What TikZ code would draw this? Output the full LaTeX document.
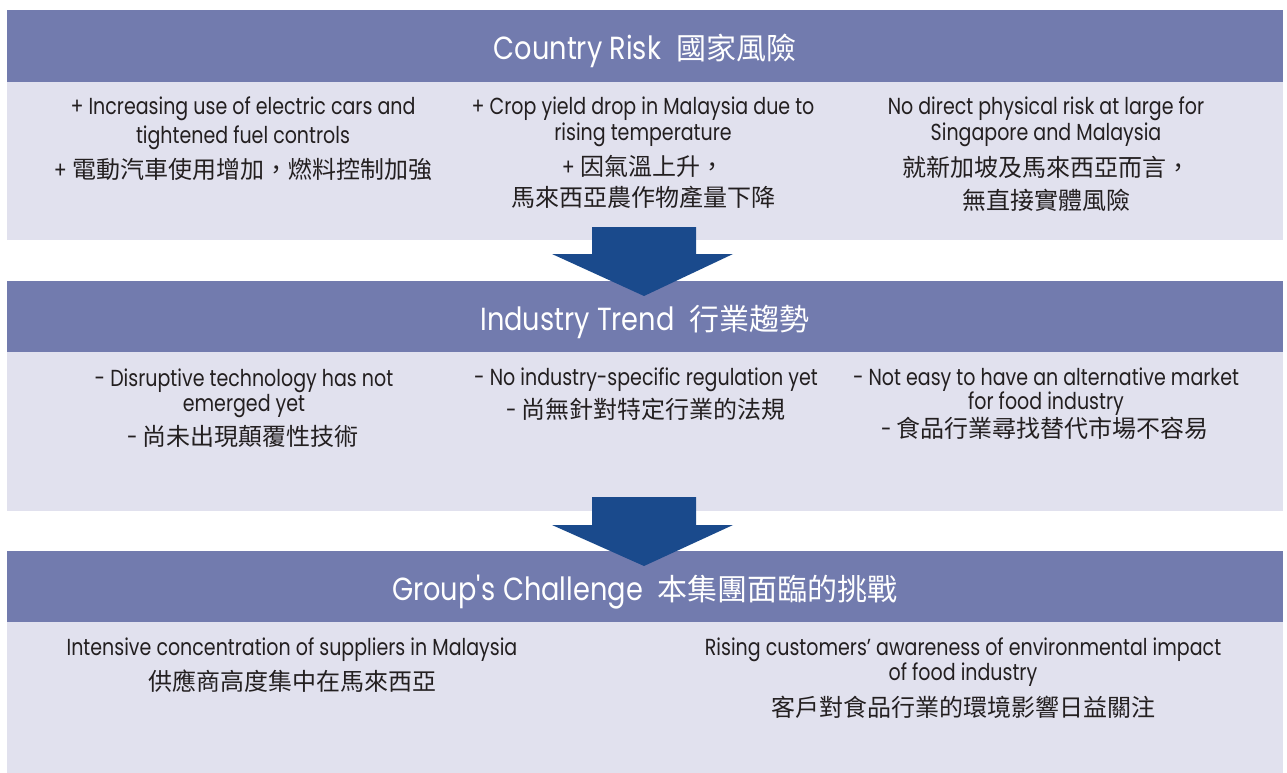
\documentclass[tikz,border=0pt]{standalone}
\usepackage{fontspec}
\setmainfont{Poppins}[FakeStretch=0.85]
\newfontfamily\bodyf{Poppins}[FakeStretch=0.82]
\newfontfamily\cjk{Noto Sans CJK TC}
\definecolor{hdrc}{HTML}{727BAE}
\definecolor{bodyc}{HTML}{E1E1EE}
\definecolor{arrc}{HTML}{1A4A8C}
\definecolor{txtc}{HTML}{231F20}
\newcommand\zh[1]{{\cjk\fontsize{24}{28}\selectfont #1}}
\newcommand\zhh[1]{{\cjk\fontsize{30}{36}\selectfont #1}}
\begin{document}
\begin{tikzpicture}[x=1pt,y=-1pt,
  panel/.style={draw=none, inner sep=0pt, outer sep=0pt, minimum width=1276pt, anchor=north west},
  hdr/.style={panel, fill=hdrc},
  bodybox/.style={panel, fill=bodyc},
  ttl/.style={anchor=base, inner sep=0pt, text=white, font=\fontsize{32}{38}\selectfont},
  ln/.style={anchor=base, inner sep=0pt, text=txtc, font=\bodyf\fontsize{23.2}{28}\selectfont},
  blockarrow/.style={fill=arrc, draw=none}]
\useasboundingbox (0,0) rectangle (1287,773);
\fill[white] (0,0) rectangle (1287,773);

% panels
\node[hdr, minimum height=72pt] (h1) at (7,10) {};
\node[bodybox, minimum height=158pt] (b1) at (7,82) {};
\node[hdr, minimum height=71pt] (h2) at (7,281) {};
\node[bodybox, minimum height=159pt] (b2) at (7,352) {};
\node[hdr, minimum height=71pt] (h3) at (7,551) {};
\node[bodybox, minimum height=151pt] (b3) at (7,622) {};

% block arrows
\fill[blockarrow] (592,227) -- (696,227) -- (696,254) -- (733,254) -- (644,296) -- (552,254) -- (592,254) -- cycle;
\fill[blockarrow] (592,497) -- (696,497) -- (696,525) -- (733,525) -- (644,566) -- (552,525) -- (592,525) -- cycle;

% titles
\node[ttl] (t1) at (645,60) {Country Risk\hspace{15pt}\zhh{國家風險}};
\node[ttl] (t2) at (645,330) {Industry Trend\hspace{15pt}\zhh{行業趨勢}};
\node[ttl] (t3) at (645,600) {Group\textquotesingle s Challenge\hspace{15pt}\zhh{本集團面臨的挑戰}};

% panel 1
\node[ln] (a1) at (243,115) {+ Increasing use of electric cars and};
\node[ln] (a2) at (243,143) {tightened fuel controls};
\node[ln] (a3) at (243,178) {+ \zh{電動汽車使用增加，燃料控制加強}};
\node[ln] (b1l1) at (643,115) {+ Crop yield drop in Malaysia due to};
\node[ln] (b1l2) at (643,141) {rising temperature};
\node[ln] (b1l3) at (643,175) {+ \zh{因氣溫上升，}};
\node[ln] (b1l4) at (643,206) {\zh{馬來西亞農作物產量下降}};
\node[ln] (c1l1) at (1046,115) {No direct physical risk at large for};
\node[ln] (c1l2) at (1046,141) {Singapore and Malaysia};
\node[ln] (c1l3) at (1046,176) {\zh{就新加坡及馬來西亞而言，}};
\node[ln] (c1l4) at (1046,209) {\zh{無直接實體風險}};

% panel 2
\node[ln] (a2l1) at (244,386) {- Disruptive technology has not};
\node[ln] (a2l2) at (244,411) {emerged yet};
\node[ln] (a2l3) at (243,445) {- \zh{尚未出現顛覆性技術}};
\node[ln] (b2l1) at (646,385) {- No industry-specific regulation yet};
\node[ln] (b2l2) at (646,418) {- \zh{尚無針對特定行業的法規}};
\node[ln] (c2l1) at (1046,385) {- Not easy to have an alternative market};
\node[ln] (c2l2) at (1046,409) {for food industry};
\node[ln] (c2l3) at (1045,437) {- \zh{食品行業尋找替代市場不容易}};

% panel 3
\node[ln] (a3l1) at (292,655) {Intensive concentration of suppliers in Malaysia};
\node[ln] (a3l2) at (292,690) {\zh{供應商高度集中在馬來西亞}};
\node[ln] (b3l1) at (963,655) {Rising customers’ awareness of environmental impact};
\node[ln] (b3l2) at (963,680) {of food industry};
\node[ln] (b3l3) at (963,716) {\zh{客戶對食品行業的環境影響日益關注}};
\end{tikzpicture}
\end{document}
